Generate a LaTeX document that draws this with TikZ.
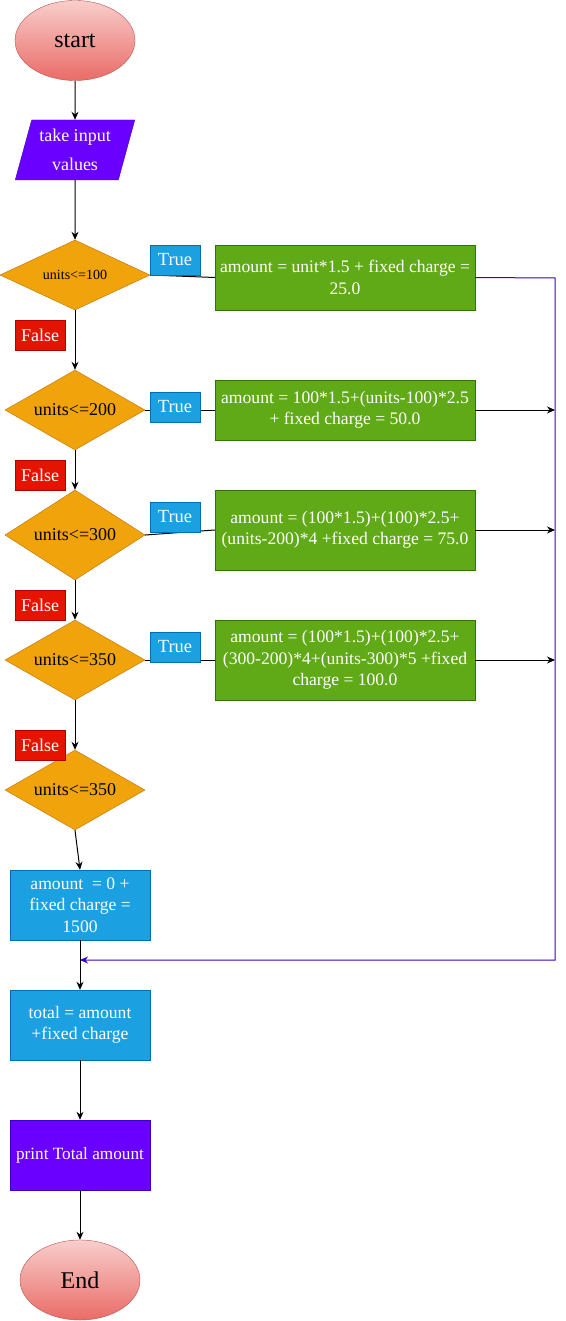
\documentclass[tikz,border=0pt]{standalone}
\usepackage{fontspec}
\setmainfont{Liberation Serif}
\usetikzlibrary{shapes.geometric,arrows.meta}
\definecolor{termT}{HTML}{F8CECC}
\definecolor{termBot}{HTML}{EA6B66}
\definecolor{termB}{HTML}{B85450}
\definecolor{decF}{HTML}{F0A30A}
\definecolor{decB}{HTML}{BD7000}
\definecolor{grF}{HTML}{60A917}
\definecolor{grB}{HTML}{2D7600}
\definecolor{blF}{HTML}{1BA1E2}
\definecolor{blB}{HTML}{006EAF}
\definecolor{rdF}{HTML}{E51400}
\definecolor{rdB}{HTML}{B20000}
\definecolor{puF}{HTML}{6A00FF}
\definecolor{puB}{HTML}{3700CC}
\tikzset{
  term/.style={ellipse, draw=termB, top color=termT, bottom color=termBot, minimum width=120pt, minimum height=80pt, inner sep=0pt, font=\fontsize{24}{28}\selectfont},
  io/.style={trapezium, trapezium left angle=72, trapezium right angle=108, trapezium stretches=true, draw=puB, fill=puF, text=white, minimum width=120pt, minimum height=60pt, inner sep=0pt, align=center, font=\fontsize{18}{29}\selectfont},
  dec/.style={diamond, shape aspect=1.75, draw=decB, fill=decF, minimum width=140pt, minimum height=80pt, inner sep=0pt, font=\fontsize{18}{20}\selectfont},
  calc/.style={rectangle, draw=grB, fill=grF, text=white, minimum width=260pt, inner sep=1pt, align=center, font=\fontsize{17.6}{21.5}\selectfont},
  bluebox/.style={rectangle, draw=blB, fill=blF, text=white, minimum width=140pt, minimum height=70pt, inner sep=1pt, align=center, font=\fontsize{17.6}{21.5}\selectfont},
  purbox/.style={rectangle, draw=puB, fill=puF, text=white, minimum width=140pt, minimum height=70pt, inner sep=1pt, align=center, font=\fontsize{17.2}{21.5}\selectfont},
  truelbl/.style={rectangle, draw=blB, fill=blF, text=white, minimum width=50pt, minimum height=30pt, inner sep=0pt, font=\fontsize{18.5}{20}\selectfont},
  falselbl/.style={rectangle, draw=rdB, fill=rdF, text=white, minimum width=50pt, minimum height=30pt, inner sep=0pt, font=\fontsize{18}{20}\selectfont},
  conn/.style={draw=black, line width=1pt, -{Stealth[length=8pt,width=7pt]}},
  plain/.style={draw=black, line width=1pt},
  back/.style={draw=puB, line width=1pt},
}
\begin{document}
\begin{tikzpicture}[x=1pt,y=-1pt]
\useasboundingbox (0,0) rectangle (565,1321);
\fill[white] (0,0) rectangle (565,1321);

\node[term] (start) at (75,40.5) {start};
\node[io] (inp) at (75,150) {take input\\values};

\node[dec, shape aspect=2.14, minimum width=150pt, minimum height=70pt, font=\fontsize{14}{16}\selectfont] (d1) at (75,275) {units<=100};
\node[dec] (d2) at (75,410) {units<=200};
\node[dec, shape aspect=1.56, minimum height=90pt] (d3) at (75,535) {units<=300};
\node[dec] (d4) at (75,660) {units<=350};
\node[dec] (d5) at (75,790) {units<=350};

\node[calc, minimum height=65pt] (g1) at (345,277.5) {amount = unit*1.5 + fixed charge =\\25.0};
\node[calc, minimum height=60pt] (g2) at (345,410) {amount = 100*1.5+(units-100)*2.5\\+ fixed charge = 50.0};
\node[calc, minimum height=80pt] (g3) at (345,530) {amount = (100*1.5)+(100)*2.5+\\(units-200)*4 +fixed charge = 75.0};
\node[calc, minimum height=80pt] (g4) at (345,660) {amount = (100*1.5)+(100)*2.5+\\(300-200)*4+(units-300)*5 +fixed\\charge = 100.0};

\node[bluebox] (a0) at (80,905) {amount~ = 0 +\\fixed charge =\\1500};
\node[bluebox] (tot) at (80,1025) {total = amount\\+fixed charge};
\node[purbox] (pr) at (80,1155) {print Total amount};
\node[term] (end) at (80,1280) {End};

\coordinate (r1) at (555,278);
\coordinate (r5) at (555,960);
\coordinate (m) at (80,960);

% connectors
\draw[conn] (start) -- (inp);
\draw[conn] (inp.south) -- (d1.north);
\draw[plain] (d1.east) -- (g1.west);
\draw[plain] (d2.east) -- (g2.west);
\draw[plain] (d3.east) -- (g3.west);
\draw[plain] (d4.east) -- (g4.west);
\draw[conn] (d1.south) -- (d2.north);
\draw[conn] (d2.south) -- (d3.north);
\draw[conn] (d3.south) -- (d4.north);
\draw[conn] (d4.south) -- (d5.north);
\draw[conn] (d5.south) -- (a0.north);
\draw[conn] (g2.east) -- (g2.east -| r1);
\draw[conn] (g3.east) -- (g3.east -| r1);
\draw[conn] (g4.east) -- (g4.east -| r1);
\draw[back, -{Stealth[length=8pt,width=7pt]}] (g1.east) -- (r1) -- (r5) -- (m);
\draw[conn] (a0.south) -- (tot.north);
\draw[conn] (tot) -- (pr);
\draw[conn] (pr) -- (end);

% labels
\node[truelbl] (t1) at (175,260) {True};
\node[truelbl] (t2) at (175,407) {True};
\node[truelbl] (t3) at (175,517) {True};
\node[truelbl] (t4) at (175,647) {True};
\node[falselbl] (f1) at (40,335) {False};
\node[falselbl] (f2) at (40,475) {False};
\node[falselbl] (f3) at (40,605) {False};
\node[falselbl] (f4) at (40,745) {False};
\end{tikzpicture}
\end{document}
